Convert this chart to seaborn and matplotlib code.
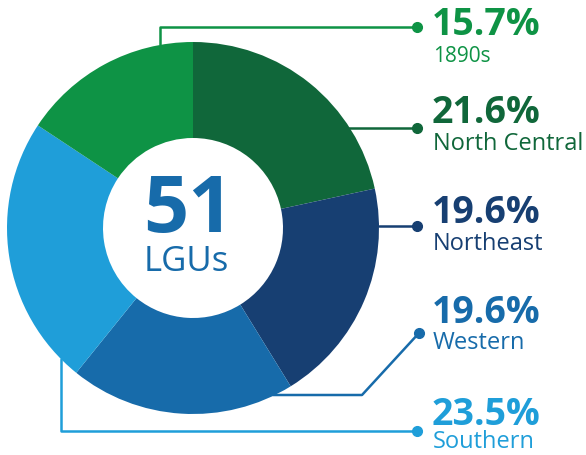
import numpy as np
import matplotlib
matplotlib.use("Agg")
import matplotlib.pyplot as plt
import seaborn as sns

# ---- data ----
regions = ["North Central", "Northeast", "Western", "Southern", "1890s"]
shares = [21.6, 19.6, 19.6, 23.5, 15.7]
colors = ["#10673A", "#173F72", "#176BAA", "#1F9ED9", "#0E9345"]
total_lgus = 51
center_label = "LGUs"

sns.set_theme(style="white")
plt.rcParams["font.family"] = ["Open Sans", "DejaVu Sans"]

W, H = 586, 455
fig = plt.figure(figsize=(W / 100, H / 100), dpi=100)
ax = fig.add_axes([0, 0, 1, 1])
ax.set_xlim(0, W)
ax.set_ylim(0, H)
ax.set_aspect("equal")
ax.axis("off")

cx, cy, R = 193, 227, 186
inner = 90
ax.pie(shares, colors=colors, startangle=90, counterclock=False,
       radius=R, center=(cx, cy), frame=True,
       wedgeprops=dict(width=R - inner, edgecolor="none"))
ax.set_xlim(0, W)
ax.set_ylim(0, H)
ax.axis("off")

# center text
mid = "#176BAA"
ax.text(cx - 5, 223, str(total_lgus), ha="center", va="baseline",
        fontsize=57, fontweight="bold", color=mid)
ax.text(cx - 7, 184, center_label, ha="center", va="baseline",
        fontsize=25, color=mid)

# leader lines and labels
dot_x = 417
text_x = 432
lw = 1.8

def circ_y(x, sign):
    return cy + sign * np.sqrt(R**2 - (x - cx) ** 2)

def circ_x(y, sign):
    return cx + sign * np.sqrt(R**2 - (y - cy) ** 2)

rows = {  # label -> (percent baseline, name baseline, name size)
    "1890s": (420, 393, 15),
    "North Central": (332, 305, 17),
    "Northeast": (232, 205, 17),
    "Western": (132, 106, 17),
    "Southern": (30, 7, 17),
}
cmap = dict(zip(regions, colors))
smap = dict(zip(regions, shares))

# 1890s: vertical up from top-left of donut then right
c = cmap["1890s"]
x0 = 160; yl = 428
ax.plot([x0, x0, dot_x], [circ_y(x0, 1), yl, yl], color=c, lw=lw, solid_capstyle="butt")
ax.plot(dot_x, yl, "o", color=c, ms=7)
# North Central
c = cmap["North Central"]; yl = 327
ax.plot([circ_x(yl, 1) - 2, dot_x], [yl, yl], color=c, lw=lw)
ax.plot(dot_x, yl, "o", color=c, ms=7)
# Northeast
c = cmap["Northeast"]; yl = 229
ax.plot([circ_x(yl, 1), dot_x], [yl, yl], color=c, lw=lw)
ax.plot(dot_x, yl, "o", color=c, ms=7)
# Western
c = cmap["Western"]; yl = 60
ax.plot([circ_x(yl, 1) - 2, 362, 419], [yl, yl, 122], color=c, lw=lw)
ax.plot(419, 122, "o", color=c, ms=7)
# Southern
c = cmap["Southern"]; x0 = 61; yl = 24
ax.plot([x0, x0, dot_x], [circ_y(x0, -1), yl, yl], color=c, lw=lw)
ax.plot(dot_x, yl, "o", color=c, ms=7)

for name in regions:
    pb, nb, ns = rows[name]
    c = cmap[name]
    ax.text(text_x, pb, f"{smap[name]:.1f}%", ha="left", va="baseline",
            fontsize=27, fontweight="bold", color=c)
    ax.text(text_x + 1, nb, name, ha="left", va="baseline", fontsize=ns, color=c)

fig.savefig("out.png", dpi=100)
